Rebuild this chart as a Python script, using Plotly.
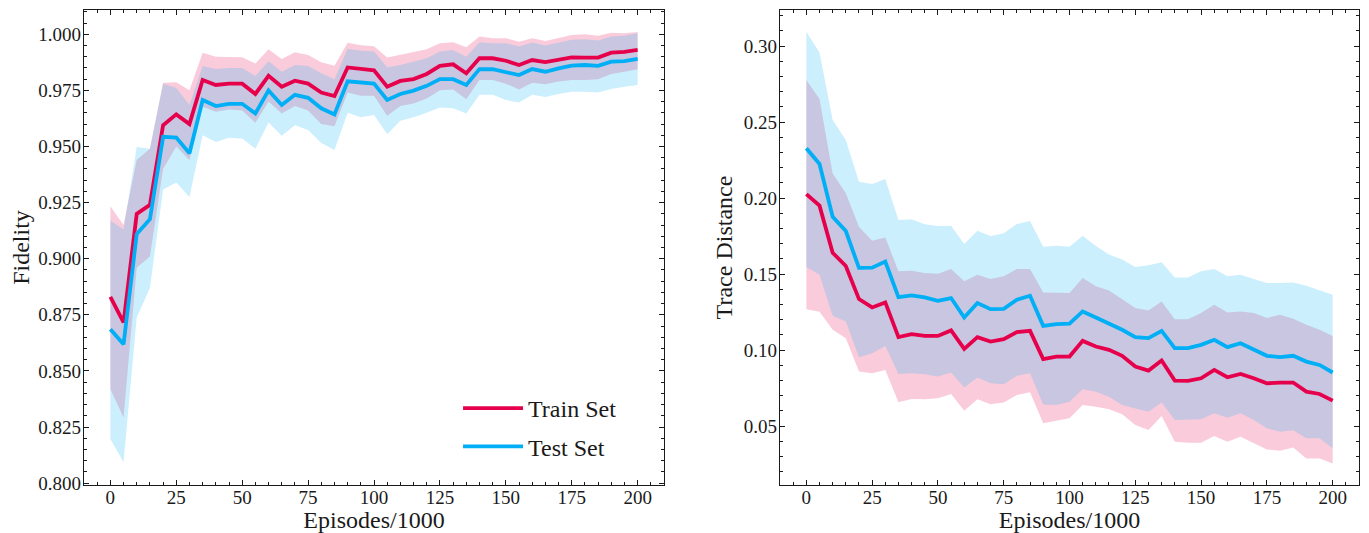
import plotly.graph_objects as go
from plotly.subplots import make_subplots

episodes = [5 * k for k in range(41)]

# ---- Left panel: Fidelity ----
fid_train_mean = [0.883, 0.8716, 0.920, 0.924, 0.9595, 0.9643, 0.960, 0.9796, 0.9774, 0.978, 0.978,
                  0.9734, 0.9815, 0.9766, 0.9793, 0.978, 0.974, 0.9725, 0.9852, 0.9844, 0.9839,
                  0.9766, 0.9792, 0.980, 0.9823, 0.9859, 0.9866, 0.9826, 0.9893, 0.9893, 0.9882,
                  0.9863, 0.9885, 0.9876, 0.9888, 0.9897, 0.9896, 0.9896, 0.9918, 0.9921, 0.993]
fid_train_upper = [0.9234, 0.915, 0.944, 0.949, 0.9784, 0.9786, 0.975, 0.9918, 0.990, 0.990, 0.9897,
                   0.987, 0.9933, 0.989, 0.992, 0.9908, 0.9875, 0.986, 0.9962, 0.9951, 0.9946,
                   0.9896, 0.9908, 0.9918, 0.9933, 0.996, 0.9964, 0.9942, 0.999, 0.9982, 0.9982,
                   0.9967, 0.9982, 0.997, 0.9985, 0.9997, 1.000, 0.9993, 1.0007, 1.0004, 1.001]
fid_train_lower = [0.842, 0.8293, 0.896, 0.901, 0.940, 0.950, 0.944, 0.9677, 0.9655, 0.9665, 0.966,
                   0.9606, 0.970, 0.9647, 0.968, 0.966, 0.960, 0.959, 0.974, 0.9726, 0.9726,
                   0.9637, 0.968, 0.9692, 0.9714, 0.975, 0.9754, 0.971, 0.9796, 0.9796, 0.978,
                   0.9754, 0.9784, 0.9777, 0.9789, 0.9796, 0.9796, 0.980, 0.9823, 0.9833, 0.9844]
fid_test_mean = [0.8686, 0.8619, 0.911, 0.9176, 0.9543, 0.954, 0.947, 0.9707, 0.968, 0.969, 0.969,
                 0.9647, 0.975, 0.9685, 0.973, 0.9717, 0.967, 0.9643, 0.979, 0.9784, 0.978,
                 0.9707, 0.9734, 0.9749, 0.977, 0.980, 0.980, 0.9774, 0.9845, 0.9844, 0.9833,
                 0.9818, 0.9845, 0.9833, 0.9848, 0.986, 0.9863, 0.9859, 0.9878, 0.988, 0.989]
fid_test_upper = [0.917, 0.913, 0.9498, 0.949, 0.978, 0.976, 0.9685, 0.9859, 0.9845, 0.985, 0.985,
                  0.9814, 0.988, 0.9833, 0.9863, 0.9859, 0.9826, 0.980, 0.9935, 0.9927, 0.9923,
                  0.9853, 0.9863, 0.9878, 0.9893, 0.9923, 0.993, 0.990, 0.9964, 0.996, 0.996,
                  0.9945, 0.9963, 0.995, 0.9963, 0.9975, 0.9978, 0.9972, 0.999, 0.9993, 1.0004]
fid_test_lower = [0.8197, 0.8093, 0.8738, 0.887, 0.9308, 0.934, 0.9275, 0.955, 0.952, 0.9539, 0.9536,
                  0.949, 0.9607, 0.9548, 0.9595, 0.9573, 0.9516, 0.9484, 0.965, 0.963, 0.964,
                  0.9554, 0.9615, 0.963, 0.965, 0.9674, 0.967, 0.9647, 0.973, 0.973, 0.9707,
                  0.9696, 0.973, 0.972, 0.9734, 0.9744, 0.9744, 0.974, 0.9756, 0.9766, 0.9774]

# ---- Right panel: Trace Distance ----
td_train_mean = [0.2026, 0.195, 0.164, 0.1553, 0.1335, 0.128, 0.1313, 0.1085, 0.1104, 0.1093, 0.1093,
                 0.1129, 0.1008, 0.1085, 0.1056, 0.1071, 0.1118, 0.1126, 0.094, 0.0957, 0.0957,
                 0.106, 0.1023, 0.1001, 0.0962, 0.0891, 0.0865, 0.0931, 0.0799, 0.0797, 0.0814,
                 0.0869, 0.0821, 0.0843, 0.0814, 0.0781, 0.0786, 0.0786, 0.0726, 0.0711, 0.0667]
td_train_upper = [0.2776, 0.2651, 0.2162, 0.2031, 0.1811, 0.1719, 0.1741, 0.1518, 0.1522, 0.1507, 0.1502,
                  0.1533, 0.1452, 0.1496, 0.1467, 0.1485, 0.1533, 0.1533, 0.1378, 0.1379, 0.1375,
                  0.1474, 0.1419, 0.1392, 0.1335, 0.1276, 0.126, 0.132, 0.1203, 0.1203, 0.1243,
                  0.1298, 0.1247, 0.1254, 0.1243, 0.121, 0.1232, 0.1205, 0.1166, 0.1133, 0.1093]
td_train_lower = [0.1269, 0.1251, 0.1133, 0.1078, 0.0858, 0.0847, 0.0869, 0.0656, 0.0678, 0.0676, 0.0682,
                  0.0711, 0.0601, 0.0676, 0.0643, 0.0654, 0.0704, 0.0722, 0.0518, 0.0535, 0.0551,
                  0.0638, 0.0627, 0.061, 0.0577, 0.0507, 0.0474, 0.0566, 0.0397, 0.039, 0.039,
                  0.0434, 0.0397, 0.043, 0.0386, 0.0346, 0.0337, 0.0359, 0.0287, 0.0287, 0.0254]
td_test_mean = [0.2327, 0.2224, 0.1877, 0.1783, 0.1540, 0.1542, 0.1582, 0.1348, 0.1359, 0.1346, 0.1324,
                0.1342, 0.1214, 0.1309, 0.1269, 0.1271, 0.1331, 0.1357, 0.1159, 0.117, 0.1173,
                0.1254, 0.1214, 0.1173, 0.1133, 0.1085, 0.1078, 0.1126, 0.1012, 0.1012, 0.1034,
                0.1067, 0.1019, 0.1045, 0.1001, 0.0962, 0.0953, 0.0962, 0.0924, 0.0902, 0.0852]
td_test_upper = [0.3094, 0.2958, 0.2513, 0.2382, 0.2107, 0.2092, 0.2125, 0.1855, 0.186, 0.1827, 0.1816,
                 0.1818, 0.1697, 0.1785, 0.175, 0.1768, 0.1829, 0.1849, 0.168, 0.1686, 0.168,
                 0.1752, 0.1684, 0.1629, 0.1596, 0.1546, 0.1558, 0.1577, 0.1477, 0.1477, 0.1518,
                 0.1533, 0.1485, 0.1496, 0.1467, 0.1441, 0.1441, 0.1445, 0.1423, 0.1392, 0.1364]
td_test_lower = [0.1546, 0.1496, 0.1225, 0.1188, 0.0953, 0.0979, 0.1027, 0.0843, 0.0847, 0.0841, 0.0825,
                 0.0852, 0.0753, 0.0819, 0.0781, 0.0775, 0.083, 0.0847, 0.0641, 0.0638, 0.066,
                 0.0742, 0.0726, 0.0693, 0.0638, 0.0616, 0.0594, 0.0654, 0.054, 0.0544, 0.0544,
                 0.0584, 0.0555, 0.0584, 0.054, 0.0485, 0.0462, 0.0473, 0.0419, 0.0419, 0.0353]

TRAIN = "#E6004C"
TEST = "#00AFF5"
TRAIN_FILL = "rgba(230,0,76,0.2)"
TEST_FILL = "rgba(0,175,245,0.2)"
FONT = "Liberation Serif"
INK = "#1a1a1a"

fig = make_subplots(rows=1, cols=2)


def add_panel(col, tr_m, tr_u, tr_l, te_m, te_u, te_l, legend):
    xs = episodes + episodes[::-1]
    fig.add_trace(go.Scatter(x=xs, y=tr_u + tr_l[::-1], fill="toself", fillcolor=TRAIN_FILL,
                             line=dict(width=0), mode="lines", showlegend=False, hoverinfo="skip"),
                  row=1, col=col)
    fig.add_trace(go.Scatter(x=xs, y=te_u + te_l[::-1], fill="toself", fillcolor=TEST_FILL,
                             line=dict(width=0), mode="lines", showlegend=False, hoverinfo="skip"),
                  row=1, col=col)
    fig.add_trace(go.Scatter(x=episodes, y=tr_m, mode="lines", name="Train Set", legendgroup="train",
                             line=dict(color=TRAIN, width=3.8), showlegend=legend),
                  row=1, col=col)
    fig.add_trace(go.Scatter(x=episodes, y=te_m, mode="lines", name="Test Set", legendgroup="test",
                             line=dict(color=TEST, width=3.8), showlegend=legend),
                  row=1, col=col)


add_panel(1, fid_train_mean, fid_train_upper, fid_train_lower,
          fid_test_mean, fid_test_upper, fid_test_lower, True)
add_panel(2, td_train_mean, td_train_upper, td_train_lower,
          td_test_mean, td_test_upper, td_test_lower, False)

axis_common = dict(
    showline=True, linecolor=INK, linewidth=1.2, mirror="allticks",
    ticks="inside", ticklen=5, tickwidth=1, tickcolor=INK,
    showgrid=False, zeroline=False, automargin=False,
    tickfont=dict(family=FONT, size=19, color=INK),
)
title_font = dict(family=FONT, size=24, color=INK)

fig.update_xaxes(**axis_common, range=[-10, 210], dtick=25, tick0=0, ticklabelstandoff=-5,
                 minor=dict(dtick=5, ticks="inside", ticklen=2.5, tickcolor=INK, showgrid=False),
                 title=dict(text="Episodes/1000", font=title_font, standoff=0))
fig.update_xaxes(domain=[0.0, 0.4549], row=1, col=1)
fig.update_xaxes(domain=[0.5459, 1.0], row=1, col=2)

fig.update_yaxes(**axis_common, domain=[0.0, 1.0], ticklabelstandoff=-2)
fig.update_yaxes(row=1, col=1, range=[0.7992, 1.0108], dtick=0.025, tick0=0.8, tickformat=".3f",
                 minor=dict(dtick=0.005, ticks="inside", ticklen=2.5, tickcolor=INK, showgrid=False),
                 title=dict(text="Fidelity", font=title_font, standoff=2))
fig.update_yaxes(row=1, col=2, range=[0.0112, 0.3237], dtick=0.05, tick0=0, tickformat=".2f",
                 minor=dict(dtick=0.01, ticks="inside", ticklen=2.5, tickcolor=INK, showgrid=False),
                 title=dict(text="Trace Distance", font=title_font, standoff=4))

fig.update_layout(
    width=1361, height=525,
    margin=dict(l=76, r=10, t=2, b=48, autoexpand=False),
    paper_bgcolor="white", plot_bgcolor="white",
    font=dict(family=FONT, color=INK),
    legend=dict(x=0.422, y=0.2084, xanchor="right", yanchor="top",
                bgcolor="rgba(0,0,0,0)", font=dict(family=FONT, size=24, color=INK),
                tracegroupgap=4, itemwidth=60),
)

fig.write_html("out.html")
